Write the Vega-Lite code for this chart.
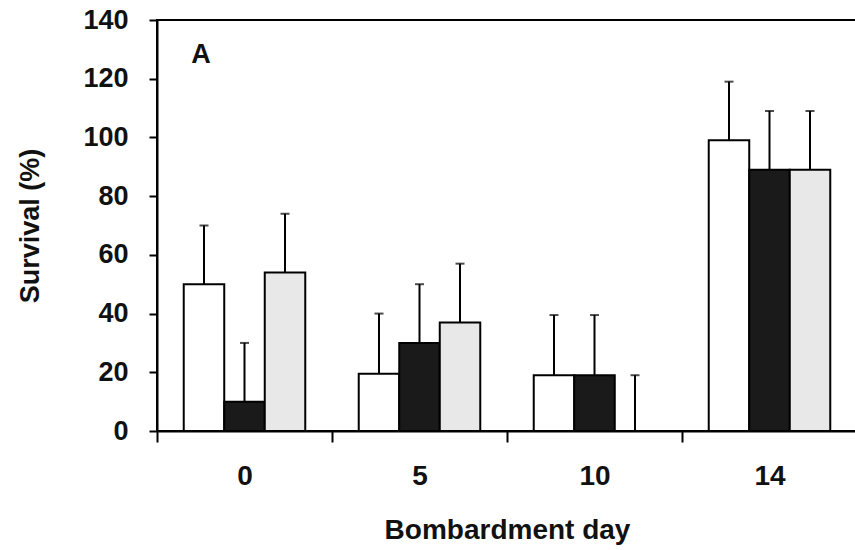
{
  "$schema": "https://vega.github.io/schema/vega-lite/v6.json",
  "width": 700,
  "height": 411,
  "autosize": {"type": "none"},
  "padding": {"left": 157, "top": 20, "right": 0, "bottom": 119},
  "background": "white",
  "config": {
    "font": "Liberation Sans",
    "view": {"stroke": "black", "strokeWidth": 2},
    "axis": {"grid": false, "domainColor": "black", "domainWidth": 2, "tickColor": "black", "tickWidth": 2, "labelColor": "#111", "titleColor": "#111", "labelFont": "Liberation Sans", "titleFont": "Liberation Sans", "labelFontWeight": "bold", "titleFontWeight": "bold"}
  },
  "data": {"values": [
    {"day": "0", "series": "a", "value": 50, "upper": 70},
    {"day": "0", "series": "b", "value": 10, "upper": 30},
    {"day": "0", "series": "c", "value": 54, "upper": 74},
    {"day": "5", "series": "a", "value": 19.5, "upper": 40},
    {"day": "5", "series": "b", "value": 30, "upper": 50},
    {"day": "5", "series": "c", "value": 37, "upper": 57},
    {"day": "10", "series": "a", "value": 19, "upper": 39.5},
    {"day": "10", "series": "b", "value": 19, "upper": 39.5},
    {"day": "10", "series": "c", "value": 0, "upper": 19},
    {"day": "14", "series": "a", "value": 99, "upper": 119},
    {"day": "14", "series": "b", "value": 89, "upper": 109},
    {"day": "14", "series": "c", "value": 89, "upper": 109}
  ]},
  "encoding": {
    "x": {"field": "day", "type": "nominal", "sort": ["0", "5", "10", "14"],
      "scale": {"paddingInner": 0, "paddingOuter": 0},
      "axis": {"title": "Bombardment day", "labelAngle": 0, "tickBand": "extent", "tickSize": 11, "labelFontSize": 28, "titleFontSize": 28, "labelPadding": 20, "titlePadding": 26}},
    "xOffset": {"field": "series", "type": "nominal", "scale": {"paddingInner": 0, "paddingOuter": 0.66}}
  },
  "layer": [
    {
      "mark": {"type": "bar", "stroke": "black", "strokeWidth": 2},
      "encoding": {
        "y": {"field": "value", "type": "quantitative", "scale": {"domain": [0, 140]},
          "axis": {"title": "Survival (%)", "values": [0, 20, 40, 60, 80, 100, 120, 140], "tickSize": 8, "labelFontSize": 27, "titleFontSize": 27, "labelPadding": 21, "titlePadding": 38}},
        "fill": {"field": "series", "type": "nominal", "scale": {"domain": ["a", "b", "c"], "range": ["#ffffff", "#1a1a1a", "#e8e8e8"]}, "legend": null}
      }
    },
    {
      "mark": {"type": "rule", "color": "black", "strokeWidth": 2},
      "encoding": {
        "y": {"field": "value", "type": "quantitative"},
        "y2": {"field": "upper"}
      }
    },
    {
      "mark": {"type": "tick", "color": "black", "thickness": 2, "size": 9},
      "encoding": {
        "y": {"field": "upper", "type": "quantitative"}
      }
    },
    {
      "data": {"values": [{"day": "0", "y": 128, "label": "A"}]},
      "mark": {"type": "text", "fontSize": 27, "fontWeight": "bold", "dx": 44, "color": "#111"},
      "encoding": {
        "x": {"field": "day", "type": "nominal"},
        "xOffset": {"value": 0},
        "y": {"field": "y", "type": "quantitative"},
        "text": {"field": "label"}
      }
    }
  ]
}
